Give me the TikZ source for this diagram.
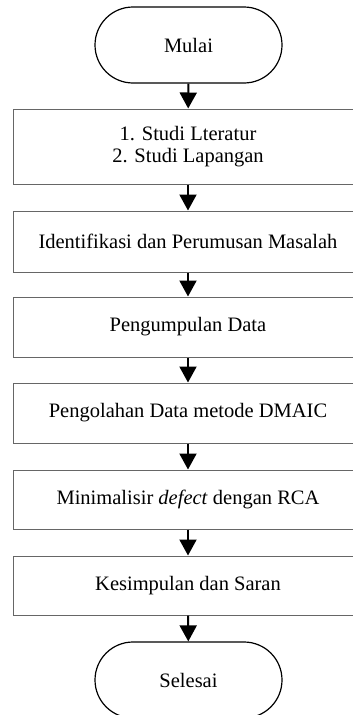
\documentclass[tikz,border=0pt]{standalone}
\usepackage{fontspec}
\setmainfont{Liberation Serif}
\usetikzlibrary{positioning,arrows.meta}
\begin{document}
\begin{tikzpicture}[x=1pt,y=1pt]
	\tikzstyle{terminal} = [draw, line width=1.2pt, rounded corners=38pt,
	minimum width=187pt, minimum height=76pt, font=\fontsize{20.5}{22}\selectfont]
	\tikzstyle{process} = [draw=black!60, line width=1pt, minimum width=350pt,
	minimum height=60pt, align=center, font=\fontsize{20.5}{22}\selectfont]
	\tikzstyle{flow} = [-{Triangle[width=17pt,length=16pt]}, line width=2pt]
	
	\clip (0,0) rectangle (353,-715);
	\node [terminal] (mulai) at (188.5,-45) {Mulai};
	\node [process, minimum height=75pt] (studi) at (188,-146.5) {1. Studi Lteratur\\2. Studi Lapangan};
	\node [process, minimum height=61pt] (identifikasi) at (188,-241.5) {Identifikasi dan Perumusan Masalah};
	\node [process] (pengumpulan) at (188,-327) {Pengumpulan Data};
	\node [process] (pengolahan) at (188,-413) {Pengolahan Data metode DMAIC};
	\node [process, minimum height=59pt] (rca) at (188,-499.5) {Minimalisir \textit{defect} dengan RCA};
	\node [process, minimum height=59pt] (kesimpulan) at (188,-585.5) {Kesimpulan dan Saran};
	\node [terminal] (selesai) at (188.5,-680) {Selesai};
	
	\draw [flow] (mulai) -- (studi);
	\draw [flow] (studi) -- (identifikasi);
	\draw [flow] (identifikasi) -- (pengumpulan);
	\draw [flow] (pengumpulan) -- (pengolahan);
	\draw [flow] (pengolahan) -- (rca);
	\draw [flow] (rca) -- (kesimpulan);
	\draw [flow] (kesimpulan) -- (selesai);
\end{tikzpicture}
\end{document}
